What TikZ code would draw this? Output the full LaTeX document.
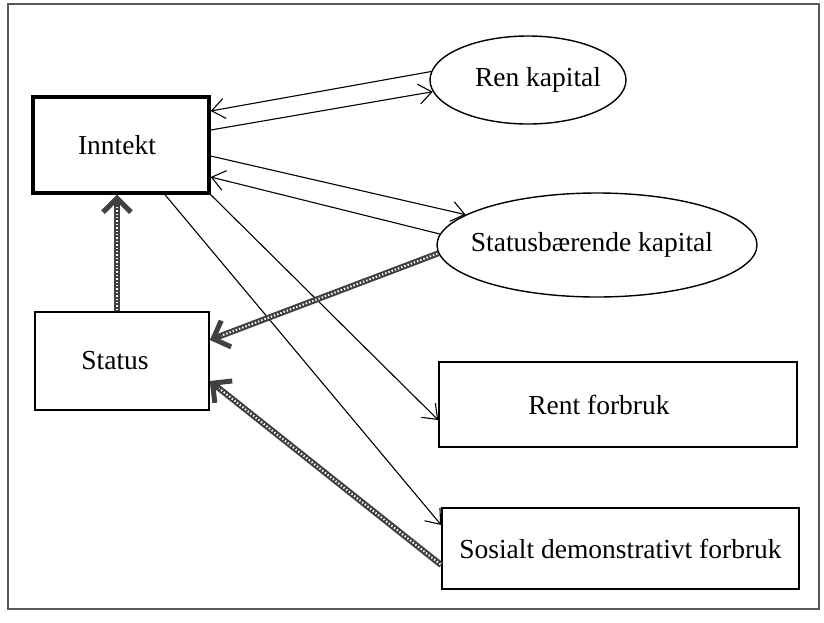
\documentclass[tikz,border=0pt]{standalone}
\usepackage{fontspec}
\setmainfont{Liberation Serif}
\usetikzlibrary{shapes.geometric,arrows.meta}
\tikzset{
  lbl/.style={font=\fontsize{27.5}{33}\selectfont, inner sep=0pt},
  boxnode/.style={lbl, draw, rectangle, line width=1.6pt},
  ellnode/.style={lbl, draw, ellipse, line width=1.4pt},
  thinarrow/.style={line width=1.1pt, -{Straight Barb[length=13pt,width=20pt,line width=1.1pt]}},
  hatcharrow/.style={draw=black!75, line width=6pt,
     -{Straight Barb[length=14pt,width=28pt,line width=5pt]},
     postaction={draw=white, line width=2pt, dash pattern=on 1.4pt off 2pt, -, shorten >=12pt, shorten <=1pt}},
}
\begin{document}
\begin{tikzpicture}[x=1pt,y=-1pt]
\useasboundingbox (0,0) rectangle (824,622);
\draw[black!65, line width=1.6pt] (8,4) rectangle (819,609);

\node[boxnode, line width=3.4pt, minimum width=176pt, minimum height=96pt] (inntekt) at (121,145) {\makebox[0pt]{Inntekt\hspace{8pt}}};
\node[boxnode, minimum width=174pt, minimum height=98pt] (status) at (122,361) {\makebox[0pt]{Status\hspace{14pt}}};
\node[ellnode, minimum width=196pt, minimum height=88pt] (rk) at (528,80) {\makebox[0pt]{\raisebox{6pt}{Ren kapital}\hspace{-20pt}}};
\node[ellnode, minimum width=320pt, minimum height=104pt] (sk) at (597,245) {\makebox[0pt]{Statusbærende kapital\hspace{10pt}}};
\node[boxnode, minimum width=358pt, minimum height=85pt] (rf) at (618,404.5) {\makebox[0pt]{Rent forbruk\hspace{38pt}}};
\node[boxnode, minimum width=357pt, minimum height=81pt] (sd) at (620.5,548.5) {\makebox[0pt]{Sosialt demonstrativt forbruk}};

\draw[thinarrow] (rk.175) -- ([yshift=34pt]inntekt.east);
\draw[thinarrow] ([yshift=15pt]inntekt.east) -- (rk.187);
\draw[thinarrow] ([yshift=-11pt]inntekt.east) -- (sk.167);
\draw[thinarrow] (sk.176) -- ([yshift=-32pt]inntekt.east);
\draw[thinarrow] (inntekt.south east) -- ([yshift=-15.5pt]rf.west);
\draw[thinarrow] ([xshift=44pt]inntekt.south) -- ([yshift=23.5pt]sd.west);

\draw[hatcharrow] (sk.183) -- ([yshift=21pt]status.east);
\draw[hatcharrow] ([yshift=-16.5pt]sd.west) -- ([yshift=-20pt]status.east);
\draw[hatcharrow] ([xshift=-5pt]status.north) -- ([xshift=-4pt]inntekt.south);
\end{tikzpicture}
\end{document}
